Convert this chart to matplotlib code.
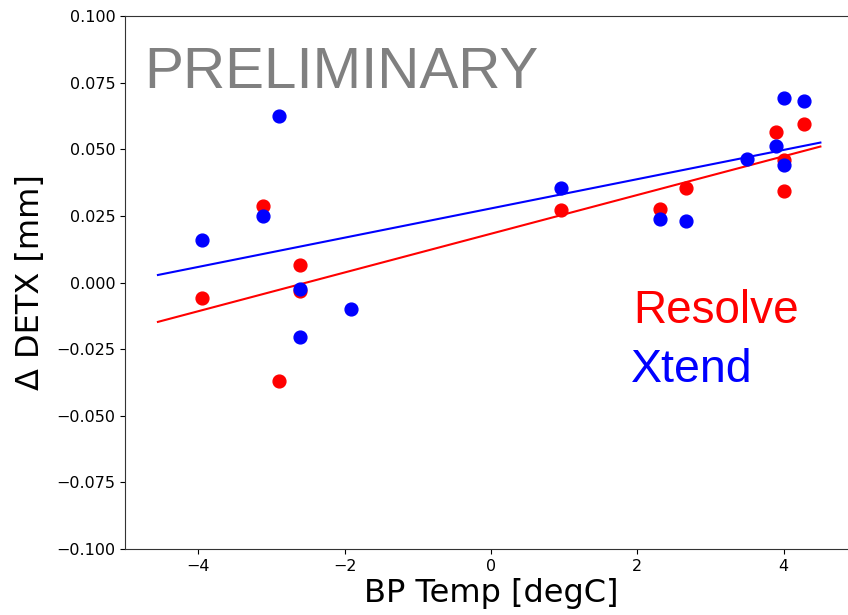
import numpy as np
import matplotlib
matplotlib.use("Agg")
import matplotlib.pyplot as plt

# BP temperature [degC] and DETX shift [mm] per instrument
resolve_temp = [-3.95, -3.12, -2.61, -2.61, -2.90, 0.96, 2.31, 2.67, 3.90, 4.00, 4.00, 4.28]
resolve_detx = [-0.0058, 0.0287, 0.0066, -0.0032, -0.0370, 0.0272, 0.0276, 0.0355, 0.0565, 0.0460, 0.0343, 0.0594]

xtend_temp = [-3.95, -3.12, -2.90, -2.61, -2.61, -1.91, 0.96, 2.31, 2.67, 3.50, 3.90, 4.00, 4.00, 4.28]
xtend_detx = [0.0159, 0.0250, 0.0625, -0.0024, -0.0205, -0.0099, 0.0355, 0.0238, 0.0231, 0.0463, 0.0512, 0.0692, 0.0441, 0.0681]

# linear fits (slope, offset)
resolve_fit = (0.00727, 0.0183)
xtend_fit = (0.00549, 0.0278)
fit_range = [-4.55, 4.5]

fig = plt.figure(figsize=(8.48, 6.15), dpi=100)
ax = fig.add_axes([0.1474, 0.1073, 0.8632, 0.8667])

for temp, detx, fit, col in [(resolve_temp, resolve_detx, resolve_fit, 'red'),
                             (xtend_temp, xtend_detx, xtend_fit, 'blue')]:
    ax.scatter(temp, detx, s=85, color=col, zorder=3)
    xx = np.array(fit_range)
    ax.plot(xx, np.polyval(fit, xx), color=col, lw=1.5, zorder=2)

ax.set_xlim(-5, 5)
ax.set_ylim(-0.1, 0.1)
ax.set_xticks([-4, -2, 0, 2, 4])
ax.set_yticks(np.arange(-0.1, 0.1001, 0.025))
ax.tick_params(labelsize=11.5)
for sp in ax.spines.values():
    sp.set_color('#333333')
ax.set_xlabel('BP Temp [degC]', fontsize=23, labelpad=3)
ax.set_ylabel('Δ DETX [mm]', fontsize=23, labelpad=7)

ax.text(144, 615 - 88, 'PRELIMINARY', transform=None, fontsize=42, color='#808080',
        family='Liberation Sans')
ax.text(633, 615 - 323, 'Resolve', transform=None, fontsize=33, color='red',
        family='Liberation Sans')
ax.text(631, 615 - 382, 'Xtend', transform=None, fontsize=33.5, color='blue',
        family='Liberation Sans')

fig.savefig('out.png', dpi=100)
